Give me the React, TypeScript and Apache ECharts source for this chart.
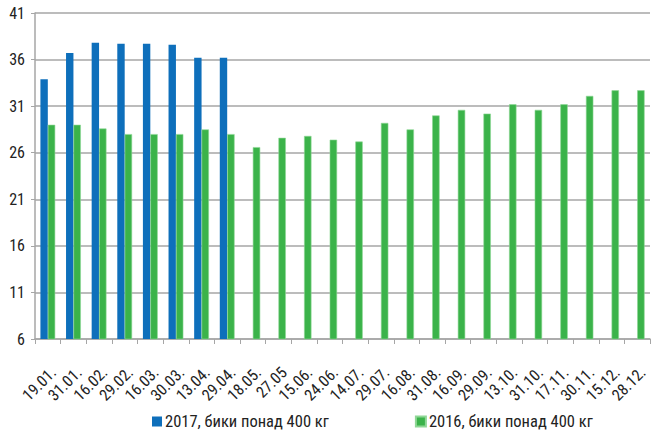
import React, { useEffect, useRef } from "react";
import * as echarts from "echarts";

const categories = ["19.01.", "31.01.", "16.02.", "29.02.", "16.03.", "30.03.", "13.04.", "29.04.", "18.05.", "27.05", "15.06.", "24.06.", "14.07.", "29.07.", "16.08.", "31.08.", "16.09.", "29.09.", "13.10.", "31.10.", "17.11.", "30.11.", "15.12.", "28.12."];
const series2017 = [33.9, 36.7, 37.8, 37.7, 37.7, 37.6, 36.2, 36.2, null, null, null, null, null, null, null, null, null, null, null, null, null, null, null, null];
const series2016 = [29.0, 29.0, 28.6, 28.0, 28.0, 28.0, 28.5, 28.0, 26.6, 27.6, 27.8, 27.4, 27.2, 29.2, 28.5, 30.0, 30.6, 30.2, 31.2, 30.6, 31.2, 32.1, 32.7, 32.7];
const name2017 = "2017, бики понад 400 кг";
const name2016 = "2016, бики понад 400 кг";

const FONT = "'Roboto Condensed', 'Liberation Sans', sans-serif";

export default function App() {
  const ref = useRef<HTMLDivElement>(null);
  useEffect(() => {
    if (!ref.current) return;
    const chart = echarts.init(ref.current, null, { renderer: "svg" });
    chart.setOption({
      animation: false,
      textStyle: { fontFamily: FONT },
      grid: { left: 35, right: 4, top: 13, bottom: 93, containLabel: false },
      legend: {
        top: 408,
        left: 147,
        padding: 5,
        itemGap: 86,
        itemWidth: 10,
        itemHeight: 10,
        icon: "rect",
        textStyle: { fontFamily: FONT, fontSize: 16.5, color: "#222", padding: [0, 0, 0, -2] },
        data: [name2017, name2016],
      },
      xAxis: {
        type: "category",
        data: categories,
        axisLine: { lineStyle: { color: "#a6a6a6", width: 1.5 } },
        axisTick: { show: true, length: 5, lineStyle: { color: "#a6a6a6" } },
        axisLabel: { rotate: 45, fontSize: 16, color: "#222", fontFamily: FONT, margin: 25, interval: 0, verticalAlign: "top" },
      },
      yAxis: {
        type: "value",
        min: 6,
        max: 41,
        interval: 5,
        axisLine: { show: true, lineStyle: { color: "#a6a6a6", width: 1.5 } },
        axisTick: { show: true, length: 4, lineStyle: { color: "#a6a6a6" } },
        splitLine: { lineStyle: { color: "#a6a6a6", width: 1.5 } },
        axisLabel: { fontSize: 16, color: "#222", fontFamily: FONT, margin: 10 },
      },
      series: [
        {
          name: name2017,
          type: "bar",
          data: series2017,
          barWidth: 7.4,
          barGap: "0%",
          itemStyle: { color: "#0e6fbb" },
        },
        {
          name: name2016,
          type: "bar",
          data: series2016,
          barWidth: 7.4,
          barGap: "0%",
          itemStyle: { color: "#3bb34a", borderColor: "#8fd796", borderWidth: 0.6 },
        },
      ],
    });
    return () => chart.dispose();
  }, []);
  return <div ref={ref} style={{ width: 654, height: 432, position: "absolute", left: 0, top: 0 }} />;
}
